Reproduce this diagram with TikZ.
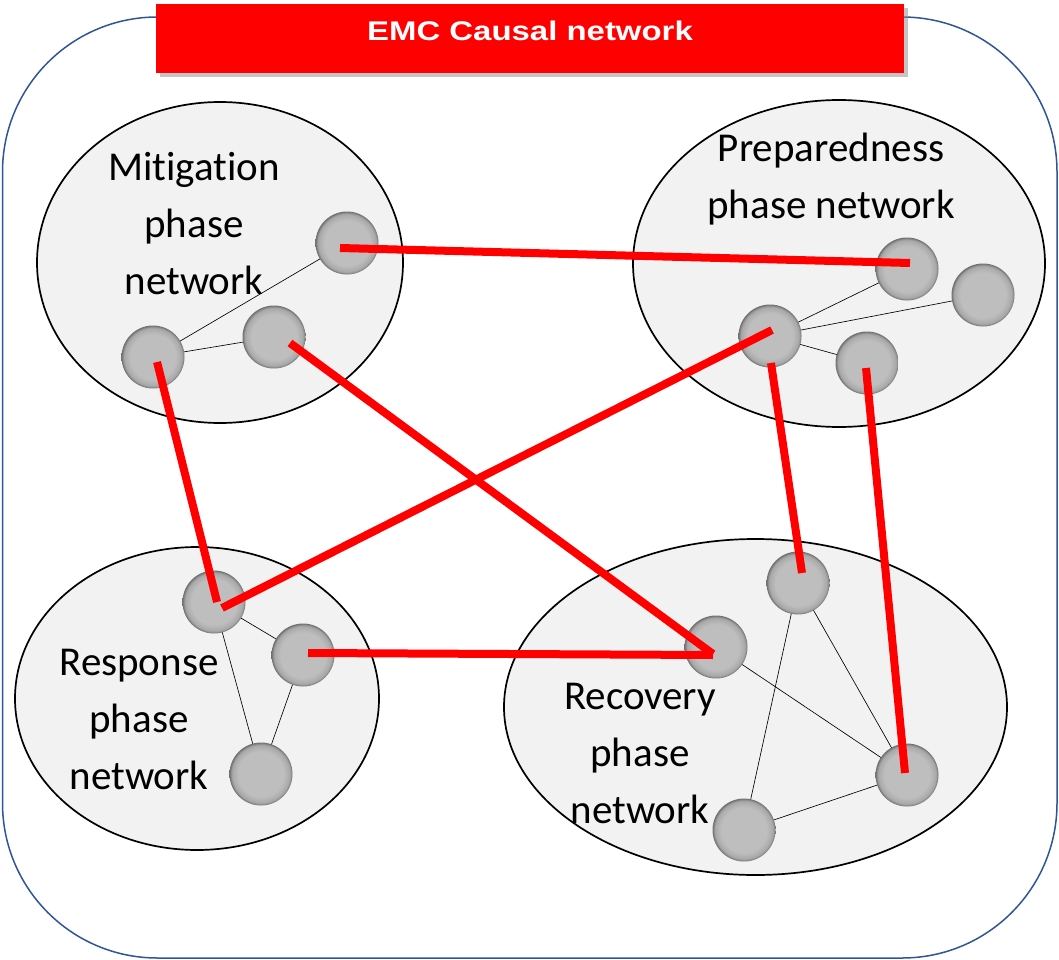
\documentclass[tikz,border=0pt]{standalone}
\usepackage{graphicx}
\usepackage{fontspec}
\setmainfont{Carlito}[Ligatures=NoCommon]
\newfontfamily\titlefont{Liberation Sans}
\usetikzlibrary{shapes.geometric,calc,shadows}
\definecolor{outerblue}{RGB}{47,85,151}
\definecolor{ellfill}{RGB}{242,242,242}
\definecolor{sphin}{RGB}{190,190,190}
\definecolor{sphmid}{RGB}{168,168,168}
\definecolor{sphout}{RGB}{112,112,112}
\pgfdeclareradialshading{sphereshade}{\pgfpoint{0bp}{0bp}}{color(0bp)=(sphin); color(18bp)=(sphin); color(23bp)=(sphmid); color(25bp)=(sphout); color(50bp)=(sphout)}
\pgfdeclarelayer{elllayer}
\pgfdeclarelayer{linelayer}
\pgfsetlayers{elllayer,linelayer,main}
\begin{document}
\begin{tikzpicture}[x=1pt,y=-1pt,
  phasenet/.style={ellipse, draw=black, line width=1.7pt, fill=ellfill, inner sep=0pt},
  sph/.style={circle, minimum size=63pt, inner sep=0pt, shade, shading=sphereshade},
  thinlink/.style={draw=black, line width=0.65pt},
  causal/.style={draw=red, line width=8pt},
  lbl/.style={font=\fontsize{41}{57}\selectfont, align=center, inner sep=0pt},
  titlebox/.style={fill=red, minimum width=748pt, minimum height=69pt, inner sep=0pt,
    text=white, font=\titlefont\bfseries\fontsize{27}{32}\selectfont,
    text height=15pt, text depth=10pt,
    drop shadow={shadow xshift=4pt, shadow yshift=-4pt, fill=black!45}}]
\useasboundingbox (0,0) rectangle (1059,960);
\draw[outerblue, line width=1.5pt, rounded corners=155pt] (2.5,17) rectangle (1057,958);
\node[titlebox] (title) at (530,38.5) {\scalebox{1.22}[1]{EMC Causal network}};

\begin{pgfonlayer}{elllayer}
\node[phasenet, minimum width=366pt, minimum height=321pt] (mit) at (220,262.5) {};
\node[phasenet, minimum width=412pt, minimum height=327pt] (prep) at (839,263.5) {};
\node[phasenet, minimum width=364pt, minimum height=303pt] (resp) at (197,698.5) {};
\node[phasenet, minimum width=503pt, minimum height=336pt] (rec) at (755.5,707) {};
\node[lbl] (mitlbl) at (194,226.5) {\rule{0pt}{34pt}Mitigation\\phase\\network\rule[-12pt]{0pt}{12pt}};
\node[lbl] (preplbl) at (831,179) {\rule{0pt}{34pt}Preparedness\\phase network\rule[-12pt]{0pt}{12pt}};
\node[lbl] (resplbl) at (139,721.5) {\rule{0pt}{34pt}Response\\phase\\network\rule[-12pt]{0pt}{12pt}};
\node[lbl] (reclbl) at (640,755) {\rule{0pt}{34pt}Recovery\\phase\\network\rule[-12pt]{0pt}{12pt}};
\end{pgfonlayer}

% spheres
\node[sph] (M1) at (347,243) {};
\node[sph] (M2) at (153,357) {};
\node[sph] (M3) at (274,337) {};
\node[sph] (P1) at (907,269) {};
\node[sph] (P2) at (983,295) {};
\node[sph] (P3) at (770,336) {};
\node[sph] (P4) at (867,363) {};
\node[sph] (R1) at (214,602) {};
\node[sph] (R2) at (303,655) {};
\node[sph] (R3) at (261,774) {};
\node[sph] (C1) at (798,583) {};
\node[sph] (C2) at (716,647) {};
\node[sph] (C3) at (907,775) {};
\node[sph] (C4) at (744,830) {};

\begin{pgfonlayer}{linelayer}
\draw[thinlink] (M2.center) -- (M1.center);
\draw[thinlink] (M2.center) -- (M3.center);
\draw[thinlink] (P3.center) -- (P1.center);
\draw[thinlink] (P3.center) -- (P2.center);
\draw[thinlink] (P3.center) -- (P4.center);
\draw[thinlink] (R1.center) -- (R2.center);
\draw[thinlink] (R1.center) -- (R3.center);
\draw[thinlink] (R2.center) -- (R3.center);
\draw[thinlink] (C1.center) -- (C4.center);
\draw[thinlink] (C1.center) -- (C3.center);
\draw[thinlink] (C2.center) -- (C3.center);
\draw[thinlink] (C4.center) -- (C3.center);
\end{pgfonlayer}

% causal links
\draw[causal] ($(M1)+(-7,5)$) -- ($(P1)+(3,-6)$);
\draw[causal] ($(M2)+(4,5)$) -- ($(R1)+(3,0)$);
\draw[causal] ($(M3)+(16,6)$) -- ($(C2)+(-3,7)$);
\draw[causal] ($(P3)+(2,-6)$) -- ($(R1)+(8,6)$);
\draw[causal] ($(P3)+(1,27)$) -- ($(C1)+(4,-10)$);
\draw[causal] ($(P4)+(-1,5)$) -- ($(C3)+(-2,-2)$);
\draw[causal] ($(R2)+(5,-2)$) -- ($(C2)+(-3,8)$);
\end{tikzpicture}
\end{document}
